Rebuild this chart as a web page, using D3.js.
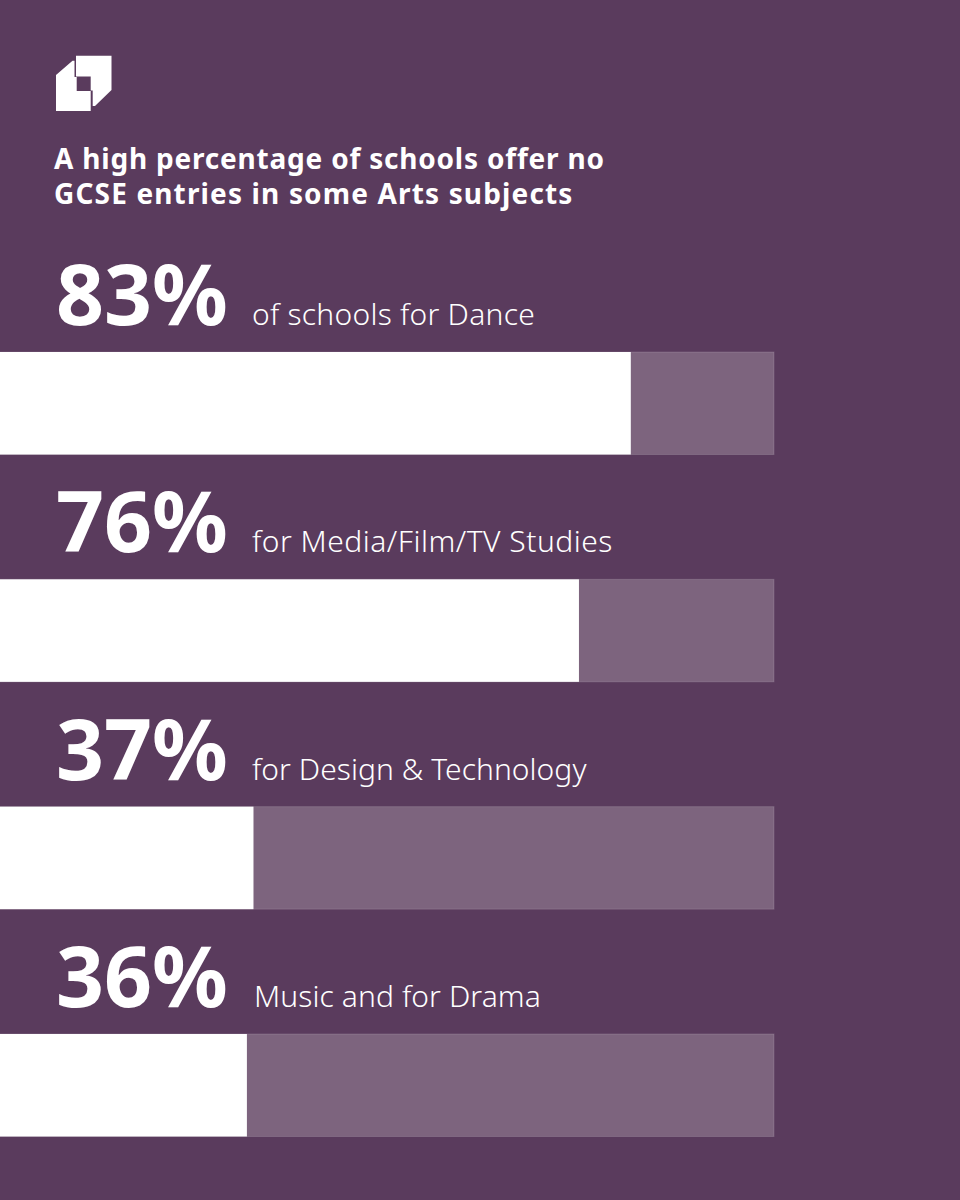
<!DOCTYPE html>
<html>
<head>
<meta charset="utf-8">
<script src="https://cdn.jsdelivr.net/npm/d3@7"></script>
<style>
  html, body { margin: 0; padding: 0; background: #5A3B5D; }
  svg { display: block; }
</style>
</head>
<body>
<div id="chart"></div>
<script>
const titleLines = ["A high percentage of schools offer no", "GCSE entries in some Arts subjects"];
const categories = ["of schools for Dance", "for Media/Film/TV Studies", "for Design & Technology", "Music and for Drama"];
const percentLabels = ["83%", "76%", "37%", "36%"];
// bar lengths as measured in the picture, share of the full track
const barLengths = [81.5, 74.8, 32.75, 31.9];

const width = 960;
const height = 1200;
const BG = "#5A3B5D";
const TRACK = "#7D647E";
const FONT = "'Noto Sans', sans-serif";

// tracking per line, the original font runs a bit wider than Noto Sans
const titleTracking = [0.8, 1.15];
const rowTracking = [0.25, 0.5, 0.05, 0.1];

const svg = d3.select("#chart").append("svg")
  .attr("width", width)
  .attr("height", height)
  .attr("viewBox", `0 0 ${width} ${height}`);

svg.append("rect").attr("width", width).attr("height", height).attr("fill", BG);

// Logo
const logo = svg.append("g").attr("fill", "#fff");
logo.append("path").attr("d", "M56 75 L72.5 60.7 L74.5 60.7 L74.5 77 L76.7 77 L76.7 91 L90.7 91 L90.7 111 L56 111 Z");
logo.append("path").attr("d", "M76 55.7 L111.5 55.7 L111.5 90 L95 106 L92.7 106 L92.7 90.5 L90.7 90.5 L90.7 76.5 L76 76.5 Z");

// Title
svg.append("g").selectAll("text")
  .data(titleLines)
  .join("text")
  .attr("x", 54)
  .attr("y", (d, i) => 169 + i * 35)
  .attr("fill", "#fff")
  .style("font-family", FONT)
  .style("font-size", "28px")
  .style("font-weight", 700)
  .style("letter-spacing", (d, i) => titleTracking[i] + "px")
  .text(d => d);

const x = d3.scaleLinear().domain([0, 100]).range([0, 774]);
const y = d3.scaleBand().domain(categories).range([352, 1136.5]).paddingInner(0.549);

const rows = svg.append("g").selectAll("g")
  .data(categories)
  .join("g");

rows.append("rect")
  .attr("x", x(0))
  .attr("y", d => y(d))
  .attr("width", x(100) - x(0))
  .attr("height", y.bandwidth())
  .attr("fill", TRACK)
  .attr("stroke", "rgba(255,255,255,0.14)")
  .attr("stroke-width", 1);

rows.append("rect")
  .attr("x", x(0))
  .attr("y", d => y(d))
  .attr("width", (d, i) => x(barLengths[i]) - x(0))
  .attr("height", y.bandwidth())
  .attr("fill", "#fff");

rows.append("text")
  .attr("x", 56)
  .attr("y", d => y(d) - 27)
  .attr("fill", "#fff")
  .style("font-family", FONT)
  .style("font-size", "84px")
  .style("font-weight", 700)
  .text((d, i) => percentLabels[i]);

rows.append("text")
  .attr("x", (d, i) => i === 3 ? 254 : 252)
  .attr("y", d => y(d) - 27)
  .attr("fill", "#fff")
  .style("font-family", FONT)
  .style("font-size", "30px")
  .style("font-weight", 300)
  .style("letter-spacing", (d, i) => rowTracking[i] + "px")
  .text(d => d);
</script>
</body>
</html>
